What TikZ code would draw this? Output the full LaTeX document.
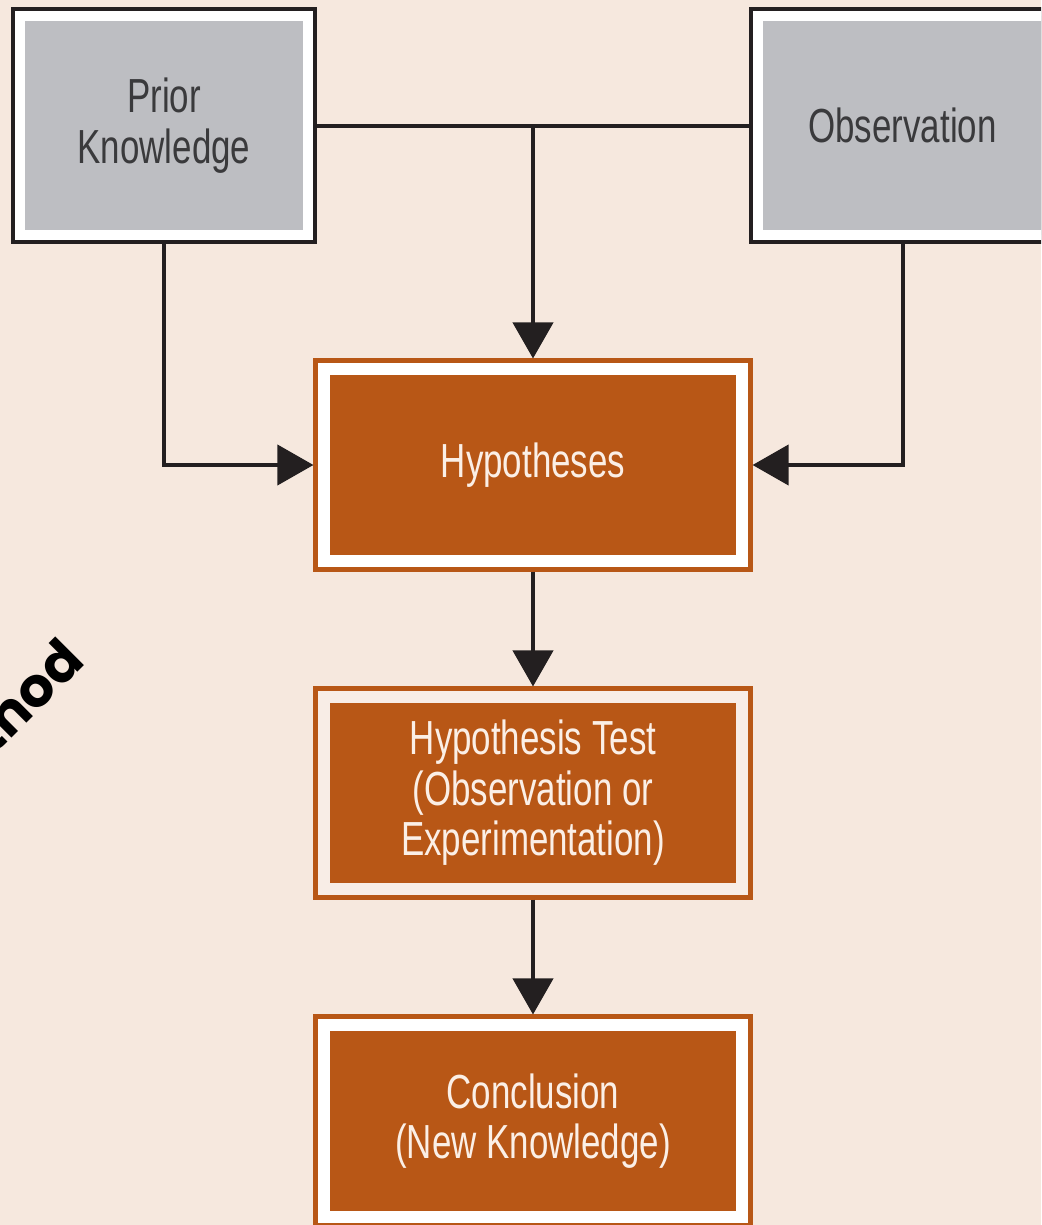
\documentclass[tikz,border=0pt]{standalone}
\usepackage{fontspec}
\usetikzlibrary{arrows.meta,positioning}
\setsansfont[FakeStretch=0.73]{Liberation Sans}
\newfontfamily\titlefont{Poppins}

\definecolor{paper}{HTML}{F6E8DE}
\definecolor{ink}{HTML}{231F20}
\definecolor{boxgrey}{HTML}{BDBEC2}
\definecolor{greytext}{HTML}{3A3A3C}
\definecolor{rust}{HTML}{B85716}
\definecolor{rusttext}{HTML}{FBEFE6}
\definecolor{testgap}{HTML}{F8EDE6}

\tikzset{
  greybox/.style={fill=boxgrey, draw=white, line width=0.25cm,
    preaction={draw=ink, line width=0.45cm},
    minimum width=7.2cm, minimum height=5.45cm, inner sep=0pt, outer sep=0.225cm,
    align=center, text=greytext, font=\sffamily\fontsize{34}{36}\selectfont},
  rustbox/.style={fill=rust, draw=white, line width=0.3cm,
    preaction={draw=rust, line width=0.525cm},
    minimum width=10.45cm, minimum height=4.8cm, inner sep=0pt, outer sep=0.2625cm,
    align=center, text=rusttext, font=\sffamily\fontsize{34}{36}\selectfont},
  conn/.style={draw=ink, line width=0.1cm},
  arrow/.style={conn, -{Triangle[length=0.9cm, width=1cm]}}
}

\begin{document}
\begin{tikzpicture}[x=0.025cm, y=-0.025cm]
  \useasboundingbox (0,0) rectangle (1041,1225);
  \clip (0,0) rectangle (1041,1225);
  \fill[paper] (0,0) rectangle (1041,1225);

  \node[rotate=45, anchor=base east, text=black,
    font=\titlefont\bfseries\fontsize{39}{42}\selectfont] (method) at (90,660) {thod};

  \node[greybox] (prior) at (164,125.5) {Prior\\Knowledge};
  \node[greybox] (obs) at (902.5,125.5) {Observation};

  \node[rustbox] (hyp) at (533,465) {Hypotheses};
  \node[rustbox, draw=testgap] (test) at (533,793) {Hypothesis Test\\(Observation or\\Experimentation)};
  \node[rustbox] (concl) at (533,1121) {Conclusion\\(New Knowledge)};

  % top joins
  \draw[conn] (prior.east) -- (obs.west);
  \draw[arrow] (hyp.north |- prior.east) -- (hyp.north);
  \draw[arrow] (prior.south) |- (hyp.west);
  \draw[arrow] (obs.south) |- (hyp.east);

  % main chain
  \draw[arrow] (hyp.south) -- (test.north);
  \draw[arrow] (test.south) -- (concl.north);
\end{tikzpicture}
\end{document}
